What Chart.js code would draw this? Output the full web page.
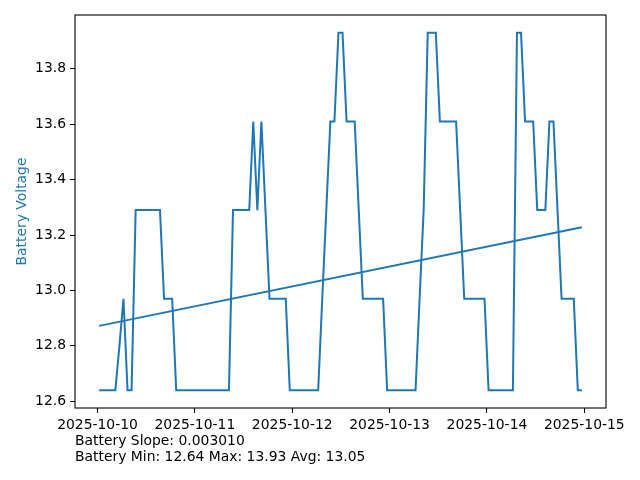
<!DOCTYPE html>
<html>
<head>
<meta charset="utf-8">
<script src="https://cdn.jsdelivr.net/npm/chart.js@4.4.1/dist/chart.umd.min.js"></script>
<style>
  html, body { margin: 0; padding: 0; background: #fff; }
  #wrap { width: 640px; height: 480px; }
</style>
</head>
<body>
<div id="wrap"><canvas id="batteryChart" width="640" height="480"></canvas></div>
<script>
// Data (hours since 2025-10-10 00:00, one reading per hour)
const firstHour = 0.4;
const voltage = [
    12.64, 12.64, 12.64, 12.64, 12.64, 12.80, 12.97, 12.64, 12.64, 13.29,
    13.29, 13.29, 13.29, 13.29, 13.29, 13.29, 12.97, 12.97, 12.97, 12.64,
    12.64, 12.64, 12.64, 12.64, 12.64, 12.64, 12.64, 12.64, 12.64, 12.64,
    12.64, 12.64, 12.64, 13.29, 13.29, 13.29, 13.29, 13.29, 13.61, 13.29,
    13.61, 13.29, 12.97, 12.97, 12.97, 12.97, 12.97, 12.64, 12.64, 12.64,
    12.64, 12.64, 12.64, 12.64, 12.64, 12.97, 13.29, 13.61, 13.61, 13.93,
    13.93, 13.61, 13.61, 13.61, 13.29, 12.97, 12.97, 12.97, 12.97, 12.97,
    12.97, 12.64, 12.64, 12.64, 12.64, 12.64, 12.64, 12.64, 12.64, 12.97,
    13.29, 13.93, 13.93, 13.93, 13.61, 13.61, 13.61, 13.61, 13.61, 13.29,
    12.97, 12.97, 12.97, 12.97, 12.97, 12.97, 12.64, 12.64, 12.64, 12.64,
    12.64, 12.64, 12.64, 13.93, 13.93, 13.61, 13.61, 13.61, 13.29, 13.29,
    13.29, 13.61, 13.61, 13.29, 12.97, 12.97, 12.97, 12.97, 12.64, 12.64
];
const trendHours = [0.4, 119.4];
const trendValues = [12.872, 13.228];

const xTicks = [0, 24, 48, 72, 96, 120];
const xTickLabels = ['2025-10-10', '2025-10-11', '2025-10-12', '2025-10-13', '2025-10-14', '2025-10-15'];
const yTicks = [12.6, 12.8, 13.0, 13.2, 13.4, 13.6, 13.8];
const footerLines = ['Battery Slope: 0.003010', 'Battery Min: 12.64 Max: 13.93 Avg: 13.05'];

const blue = '#1f77b4';
const font = { family: '"DejaVu Sans", sans-serif', size: 13.9 };

const points = voltage.map((v, i) => ({ x: firstHour + i, y: v }));
const trend = trendHours.map((h, i) => ({ x: h, y: trendValues[i] }));

// Axes box + footer text
const frame = {
    id: 'frame',
    afterDraw(chart) {
        const { ctx, chartArea: a } = chart;
        ctx.save();
        ctx.strokeStyle = '#000';
        ctx.lineWidth = 1.1;
        ctx.strokeRect(a.left, a.top, a.right - a.left, a.bottom - a.top);
        ctx.fillStyle = '#000';
        ctx.font = '13.9px "DejaVu Sans", sans-serif';
        ctx.textBaseline = 'middle';
        footerLines.forEach((t, i) => ctx.fillText(t, 75, 441 + i * 16));
        ctx.restore();
    }
};

new Chart(document.getElementById('batteryChart'), {
    type: 'line',
    data: {
        datasets: [
            { data: points, borderColor: blue, borderWidth: 2, pointRadius: 0, tension: 0 },
            { data: trend, borderColor: blue, borderWidth: 2, pointRadius: 0, tension: 0 }
        ]
    },
    options: {
        responsive: false,
        animation: false,
        devicePixelRatio: 1,
        layout: { padding: { left: 0, right: 34, top: 15, bottom: 0 } },
        plugins: { legend: { display: false }, tooltip: { enabled: false } },
        scales: {
            x: {
                type: 'linear',
                min: -5.55,
                max: 125.35,
                afterFit: s => { s.height = 72; },
                afterBuildTicks: s => { s.ticks = xTicks.map(v => ({ value: v })); },
                border: { display: false },
                grid: { drawOnChartArea: false, drawTicks: true, tickLength: 5, tickColor: '#000', lineWidth: 1 },
                ticks: {
                    color: '#000', font: font, padding: 4, maxRotation: 0, autoSkip: false,
                    callback: v => xTickLabels[xTicks.indexOf(v)]
                }
            },
            y: {
                min: 12.5755,
                max: 13.9945,
                afterFit: s => { s.width = 75; },
                afterBuildTicks: s => { s.ticks = yTicks.map(v => ({ value: v })); },
                border: { display: false },
                grid: { drawOnChartArea: false, drawTicks: true, tickLength: 5, tickColor: '#000', lineWidth: 1 },
                ticks: { color: '#000', font: font, padding: 4, callback: v => v.toFixed(1) },
                title: { display: true, text: 'Battery Voltage', color: blue, font: font, padding: { top: 14, bottom: 0 } }
            }
        }
    },
    plugins: [frame]
});
</script>
</body>
</html>
